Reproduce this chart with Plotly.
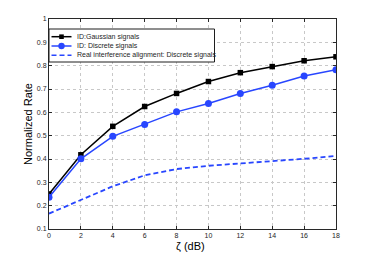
import plotly.graph_objects as go

x_db = [0, 2, 4, 6, 8, 10, 12, 14, 16, 18]
id_gaussian = [0.25, 0.418, 0.54, 0.625, 0.681, 0.732, 0.770, 0.796, 0.821, 0.838]
id_discrete = [0.236, 0.401, 0.497, 0.548, 0.602, 0.638, 0.681, 0.716, 0.756, 0.783]
ria_discrete = [0.166, 0.225, 0.283, 0.330, 0.357, 0.371, 0.380, 0.390, 0.401, 0.413]

names = ["ID:Gaussian signals", "ID: Discrete signals",
         "Real interference alignment: Discrete signals"]
blue = "rgb(40,70,255)"
DASH = "5px,3px"
OFF = 8  # page body margin of the html page
W, H = 371 - OFF, 259 - OFF
L, R, T, B = 41, 35, 11, 30
PW, PH = W - L - R, H - T - B
FONT = "Liberation Sans, Arial, sans-serif"


def px(xp):
    return (xp - OFF - L) / PW


def py(yp):
    return (H - B - (yp - OFF)) / PH


fig = go.Figure()
fig.add_trace(go.Scatter(x=x_db, y=id_gaussian, name=names[0], mode="lines+markers",
                         line=dict(color="black", width=1.5),
                         marker=dict(symbol="square", size=5.5, color="black")))
fig.add_trace(go.Scatter(x=x_db, y=id_discrete, name=names[1], mode="lines+markers",
                         line=dict(color=blue, width=1.5),
                         marker=dict(symbol="circle", size=7, color=blue)))
fig.add_trace(go.Scatter(x=x_db, y=ria_discrete, name=names[2], mode="lines",
                         line=dict(color=blue, width=1.8, dash=DASH)))

axis_common = dict(showgrid=True, gridcolor="rgb(200,200,200)", griddash="dot", gridwidth=1,
                   showline=True, linecolor="rgb(40,40,40)", linewidth=1, mirror="ticks",
                   ticks="inside", ticklen=3, tickcolor="rgb(40,40,40)",
                   tickfont=dict(family=FONT, size=7, color="rgb(30,30,30)"),
                   zeroline=False, automargin=False)

fig.update_xaxes(range=[0, 18], tickvals=x_db, **axis_common)
fig.update_yaxes(range=[0.1, 1.0], **axis_common,
                 tickvals=[0.1, 0.2, 0.3, 0.4, 0.5, 0.6, 0.7, 0.8, 0.9, 1.0],
                 ticktext=["0.1", "0.2", "0.3", "0.4", "0.5", "0.6", "0.7", "0.8", "0.9", "1"])

shapes = []
annotations = [
    dict(text="ζ (dB)", x=px(190), y=py(246), xref="paper", yref="paper", showarrow=False,
         font=dict(family=FONT, size=11, color="black"), xanchor="center", yanchor="middle"),
    dict(text="Normalized Rate", x=px(28), y=py(124), xref="paper", yref="paper", showarrow=False,
         textangle=-90, font=dict(family=FONT, size=11, color="black"),
         xanchor="center", yanchor="middle"),
]

# legend box
shapes.append(dict(type="rect", xref="paper", yref="paper", x0=px(49), x1=px(214.5),
                   y0=py(62), y1=py(29), fillcolor="white",
                   line=dict(color="rgb(30,30,30)", width=1), layer="above"))
rows = [36.7, 46.0, 55.3]
styles = [("black", "solid", "square"), (blue, "solid", "circle"), (blue, DASH, None)]
for name, yy, (col, dash, sym) in zip(names, rows, styles):
    shapes.append(dict(type="line", xref="paper", yref="paper", x0=px(51.5), x1=px(71.5),
                       y0=py(yy), y1=py(yy), line=dict(color=col, width=1.5, dash=dash),
                       layer="above"))
    if sym == "square":
        shapes.append(dict(type="rect", xref="paper", yref="paper", x0=px(59.2), x1=px(63.8),
                           y0=py(yy + 2.3), y1=py(yy - 2.3), fillcolor=col,
                           line=dict(color=col, width=0), layer="above"))
    elif sym == "circle":
        shapes.append(dict(type="circle", xref="paper", yref="paper", x0=px(58.3), x1=px(64.7),
                           y0=py(yy + 3.2), y1=py(yy - 3.2), fillcolor=col,
                           line=dict(color=col, width=0), layer="above"))
    annotations.append(dict(text=name, x=px(75), y=py(yy), xref="paper", yref="paper",
                            showarrow=False, xanchor="left", yanchor="middle",
                            font=dict(family=FONT, size=7, color="rgb(30,30,30)")))

fig.update_layout(width=W, height=H,
                  margin=dict(l=L, r=R, t=T, b=B),
                  paper_bgcolor="white", plot_bgcolor="white",
                  showlegend=False, shapes=shapes, annotations=annotations)

fig.write_html("out.html")
